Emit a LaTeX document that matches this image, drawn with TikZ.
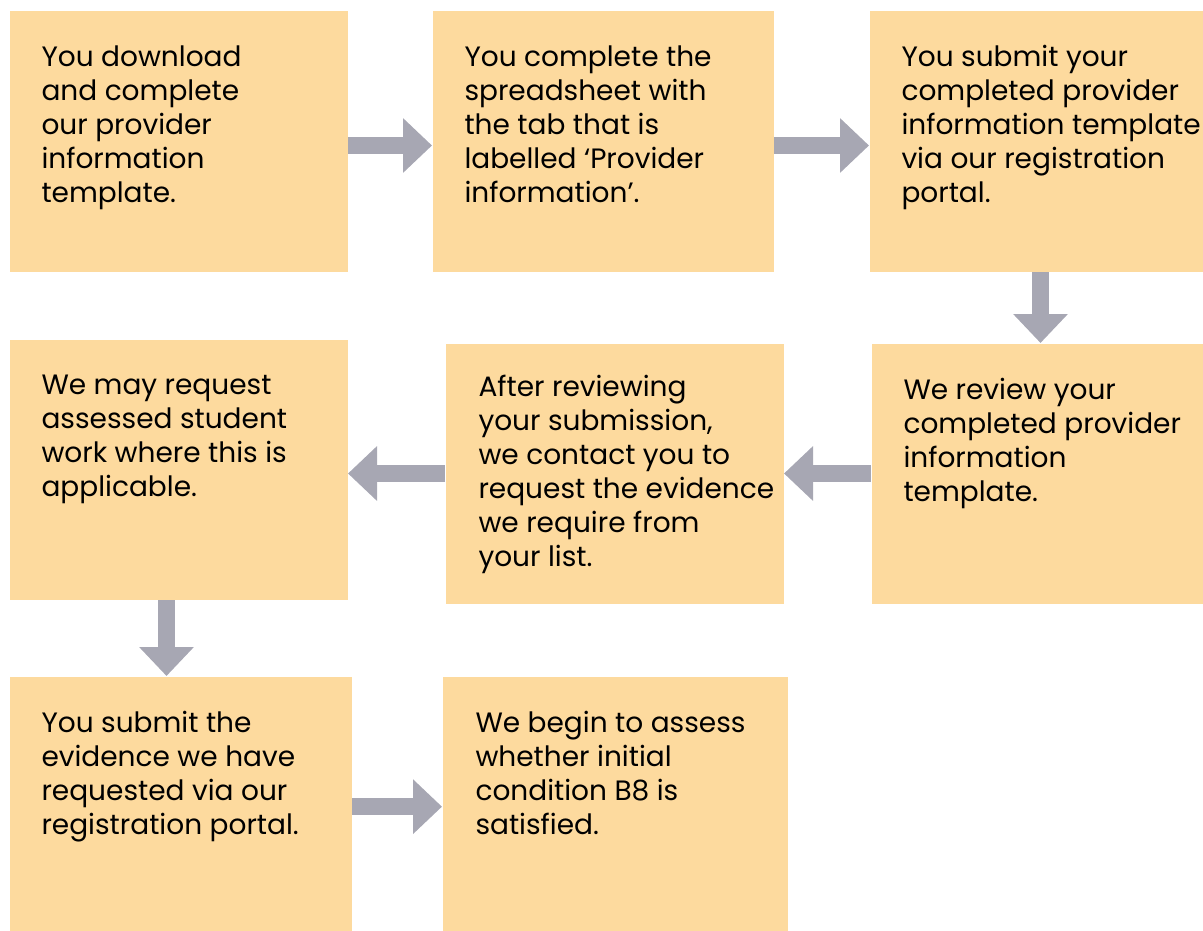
\documentclass[tikz,border=0pt]{standalone}
\usepackage{fontspec}
\setmainfont{Poppins}
\usetikzlibrary{arrows.meta,positioning}

\definecolor{boxfill}{RGB}{253,218,158}
\definecolor{arrowgrey}{RGB}{167,167,179}

\tikzset{every picture/.style={line width=0.75pt}}
\tikzset{
  stepbox/.style={fill=boxfill, draw=none, anchor=north west, inner sep=0pt,
    minimum width=253.5pt, minimum height=195pt},
  steptext/.style={anchor=north west, inner sep=0pt, align=left,
    font=\fontsize{21}{25.5}\selectfont},
  flow/.style={draw=arrowgrey, line width=12.75pt,
    -{Triangle[length=21.75pt,width=39.75pt]}}
}

\begin{document}
\begin{tikzpicture}[x=0.75pt,y=0.75pt,yscale=-1,xscale=1]
\useasboundingbox (0,0) rectangle (1203,931);

%Boxes, first row
\node[stepbox] (dl) at (9,11) {};
\node[stepbox, minimum width=255.75pt] (fill) at (432,11) {};
\node[stepbox, minimum width=250.5pt] (subm) at (869,11) {};
%Boxes, second row
\node[stepbox] (req) at (9,339) {};
\node[stepbox] (cont) at (445,343) {};
\node[stepbox, minimum width=249pt] (rev) at (871,343) {};
%Boxes, third row
\node[stepbox, minimum width=256.5pt, minimum height=191.25pt] (evid) at (9,676) {};
\node[stepbox, minimum width=258.75pt, minimum height=191.25pt] (assess) at (442,676) {};

% Text Node
\node[steptext] (dltext) at ([shift={(32,34)}]dl.north west) {You download\\and complete\\our provider\\information\\template.};
% Text Node
\node[steptext] (filltext) at ([shift={(32,34)}]fill.north west) {You complete the\\spreadsheet with\\the tab that is\\labelled ‘Provider\\information’.};
% Text Node
\node[steptext] (submtext) at ([shift={(32,34)}]subm.north west) {You submit your\\completed provider\\information template\\via our registration\\portal.};
% Text Node
\node[steptext] (reqtext) at ([shift={(32,35)}]req.north west) {We may request\\assessed student\\work where this is\\applicable.};
% Text Node
\node[steptext] (conttext) at ([shift={(33,32)}]cont.north west) {After reviewing\\your submission,\\we contact you to\\request the evidence\\we require from\\your list.};
% Text Node
\node[steptext] (revtext) at ([shift={(32,35)}]rev.north west) {We review your\\completed provider\\information\\template.};
% Text Node
\node[steptext] (evidtext) at ([shift={(32,35)}]evid.north west) {You submit the\\evidence we have\\requested via our\\registration portal.};
% Text Node
\node[steptext] (assesstext) at ([shift={(33,35)}]assess.north west) {We begin to assess\\whether initial\\condition B8 is\\satisfied.};

%Arrows
\draw[flow] ([yshift=3]dl.east) -- ([yshift=3]dl.east -| fill.west);
\draw[flow] ([yshift=3]fill.east) -- ([yshift=3]fill.east -| subm.west);
\draw[flow] ([xshift=3]subm.south) -- ([xshift=3]subm.south |- rev.north);
\draw[flow] (rev.west) -- (rev.west -| cont.east);
\draw[flow] (cont.west) -- (cont.west -| req.east);
\draw[flow] ([xshift=-9]req.south) -- ([xshift=-9]req.south |- evid.north);
\draw[flow] ([yshift=2]evid.east) -- ([yshift=2]evid.east -| assess.west);

\end{tikzpicture}
\end{document}
